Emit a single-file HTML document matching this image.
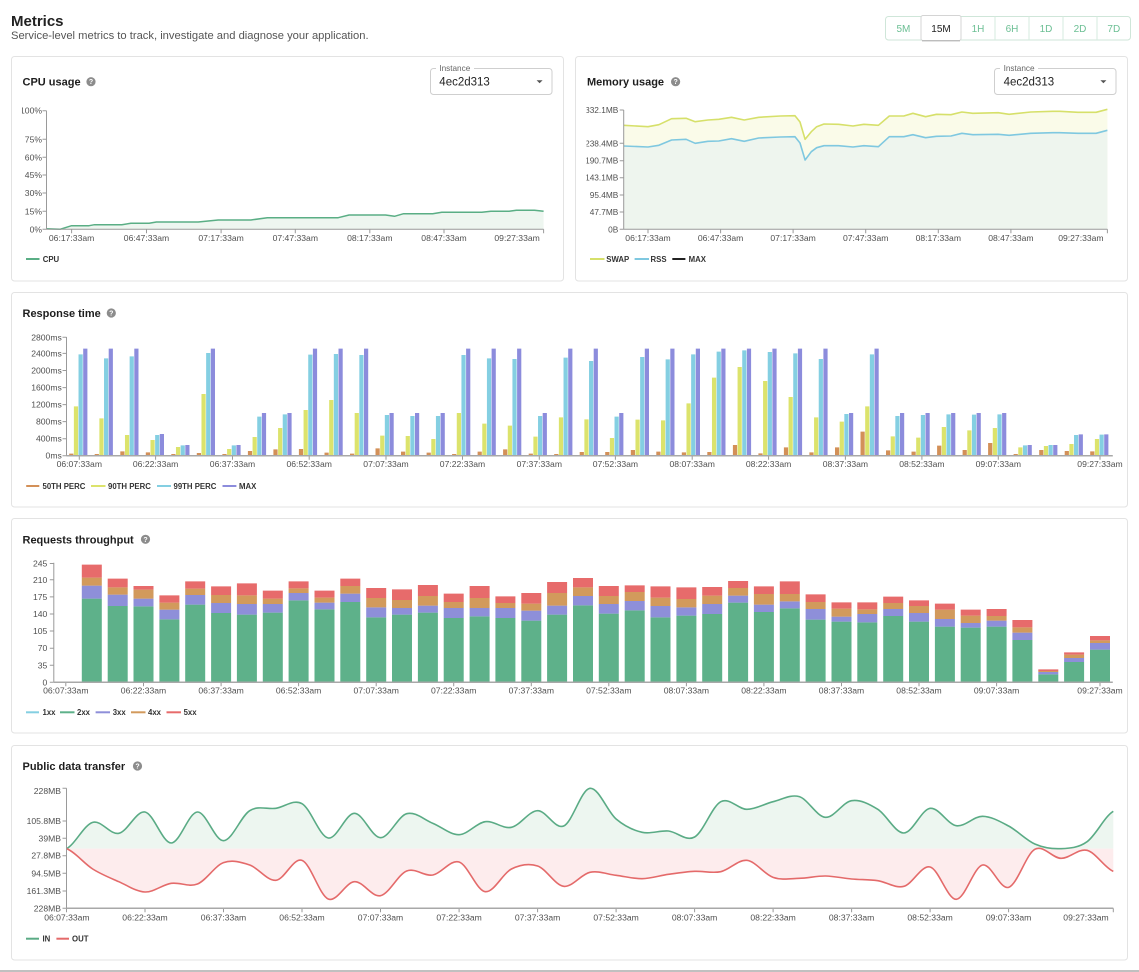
<!DOCTYPE html>
<html><head><meta charset="utf-8">
<style>
html,body{margin:0;padding:0;background:#fff;}
svg{display:block;font-family:"Liberation Sans",Arial,sans-serif;}
.ax{stroke:#9a9a9a;stroke-width:1;fill:none}
.xax{stroke:#a8a8a8;stroke-width:1.5;fill:none}
.yl{font-size:8.6px;fill:#505050;text-anchor:end}
.xl{font-size:8.6px;fill:#505050;text-anchor:middle}
.lg{font-size:7.8px;font-weight:bold;fill:#333}
.tt{font-size:11px;font-weight:bold;fill:#1e1e1e}
.card{fill:#fff;stroke:#e3e3e3;stroke-width:1}
.hq{font-size:7px;font-weight:bold;fill:#fff;text-anchor:middle}
.btn{font-size:10px;fill:#6cbf94;text-anchor:middle}
</style></head><body>
<svg width="1139" height="972" viewBox="0 0 1139 972">
<defs>
<clipPath id="cpuc"><rect x="22" y="0" width="560" height="300"/></clipPath>
<clipPath id="memc"><rect x="586.5" y="0" width="560" height="300"/></clipPath>
</defs>

<!-- Header -->
<text x="11" y="26" font-size="15" font-weight="bold" fill="#222">Metrics</text>
<text x="11" y="39" font-size="11.2" fill="#555">Service-level metrics to track, investigate and diagnose your application.</text>

<rect x="885.5" y="16.5" width="245" height="23.5" rx="3" fill="#fff" stroke="#cfe6d9"/>
<path d="M995 16.5V40M1029 16.5V40M1063 16.5V40M1097 16.5V40" stroke="#d6ebdf" stroke-width="1"/>
<rect x="921" y="15.5" width="40" height="25" rx="2" fill="#fff" stroke="#d4d4d4"/>
<path d="M922 40.8H960" stroke="#b5b5b5" stroke-width="1.2"/>
<text class="btn" x="903.4" y="32">5M</text>
<text x="941" y="32" font-size="10" fill="#222" text-anchor="middle">15M</text>
<text class="btn" x="978" y="32">1H</text>
<text class="btn" x="1012" y="32">6H</text>
<text class="btn" x="1046" y="32">1D</text>
<text class="btn" x="1080" y="32">2D</text>
<text class="btn" x="1113.8" y="32">7D</text>

<!-- Cards -->
<rect class="card" x="11.5" y="56.5" width="552" height="224.5" rx="3"/>
<rect class="card" x="575.5" y="56.5" width="552" height="224.5" rx="3"/>
<rect class="card" x="11.5" y="292.5" width="1116" height="214.5" rx="3"/>
<rect class="card" x="11.5" y="518.5" width="1116" height="214.5" rx="3"/>
<rect class="card" x="11.5" y="745.5" width="1116" height="214.5" rx="3"/>
<path d="M0 971H1139" stroke="#9a9a9a" stroke-width="1.2"/>

<!-- ===== CPU ===== -->
<text class="tt" x="22.5" y="85.6">CPU usage</text>
<circle cx="91" cy="81.7" r="4.6" fill="#8c8c8c"/><text class="hq" x="91" y="84.2">?</text>

<rect x="430.5" y="68.5" width="121.5" height="26" rx="3" fill="#fff" stroke="#cfcfcf"/>
<rect x="436" y="65" width="38" height="7" fill="#fff"/>
<text x="439.3" y="71" font-size="8.2" fill="#666">Instance</text>
<text x="439.3" y="85.7" font-size="11.5" fill="#222">4ec2d313</text>
<path d="M536.6 80.2H542.6L539.6 83.2Z" fill="#555"/>

<polygon fill="#eef6f0" points="46.5,229.3 46.5,228.7 60,229.3 71.6,225.7 89.1,225.7 94.5,224.7 121.8,224.7 130.9,223.3 149.1,223.3 156.4,222 198.2,222 218.2,220 250.9,220 267.3,217.7 338.2,217.7 349.1,215 385.5,215 394.5,216.3 403.6,213.7 432.7,213.7 441.8,212.3 481.8,212.3 490.9,211.3 509.1,211.3 516.4,210.3 534.5,210.3 543.6,211.3 543.6,229.3"/>
<polyline fill="none" stroke="#5aae85" stroke-width="1.5" stroke-linejoin="round" points="46.5,228.7 60,229.3 71.6,225.7 89.1,225.7 94.5,224.7 121.8,224.7 130.9,223.3 149.1,223.3 156.4,222 198.2,222 218.2,220 250.9,220 267.3,217.7 338.2,217.7 349.1,215 385.5,215 394.5,216.3 403.6,213.7 432.7,213.7 441.8,212.3 481.8,212.3 490.9,211.3 509.1,211.3 516.4,210.3 534.5,210.3 543.6,211.3"/>
<path class="ax" d="M46.5 110.7V229.3H543.6M42.5 110.7H46.5M42.5 139.3H46.5M42.5 157.3H46.5M42.5 175H46.5M42.5 193H46.5M42.5 211.3H46.5M42.5 229.3H46.5M71.6 229.3V233.3M146.5 229.3V233.3M221.1 229.3V233.3M295.3 229.3V233.3M369.8 229.3V233.3M444 229.3V233.3M543.6 229.3V233.3"/>
<g clip-path="url(#cpuc)">
<text class="yl" x="42" y="113.7">100%</text>
</g>
<text class="yl" x="42" y="142.3">75%</text>
<text class="yl" x="42" y="160.3">60%</text>
<text class="yl" x="42" y="178">45%</text>
<text class="yl" x="42" y="196">30%</text>
<text class="yl" x="42" y="214.3">15%</text>
<text class="yl" x="42" y="232.3">0%</text>
<text class="xl" x="71.6" y="240.8">06:17:33am</text>
<text class="xl" x="146.5" y="240.8">06:47:33am</text>
<text class="xl" x="221.1" y="240.8">07:17:33am</text>
<text class="xl" x="295.3" y="240.8">07:47:33am</text>
<text class="xl" x="369.8" y="240.8">08:17:33am</text>
<text class="xl" x="444" y="240.8">08:47:33am</text>
<text class="xl" x="517.1" y="240.8">09:27:33am</text>
<path d="M26 259H39.5" stroke="#5aae85" stroke-width="2"/>
<text class="lg" x="42.7" y="261.8">CPU</text>

<!-- ===== Memory ===== -->
<text class="tt" x="587" y="85.6">Memory usage</text>
<circle cx="675.6" cy="81.7" r="4.6" fill="#8c8c8c"/><text class="hq" x="675.6" y="84.2">?</text>

<rect x="994.5" y="68.5" width="121.5" height="26" rx="3" fill="#fff" stroke="#cfcfcf"/>
<rect x="1000" y="65" width="38" height="7" fill="#fff"/>
<text x="1003.6" y="71" font-size="8.2" fill="#666">Instance</text>
<text x="1003.6" y="85.7" font-size="11.5" fill="#222">4ec2d313</text>
<path d="M1100.4 80.2H1106.4L1103.4 83.2Z" fill="#555"/>

<polygon fill="#fafbe9" points="623.7,125.3 648,126.7 658.9,124.7 671.6,118.7 686.1,118.3 695.2,121.7 707.9,120 718.8,119.3 731.5,117.3 744.2,120 758.7,117.3 780.4,116 795,115.7 800,122 805.1,139.3 811.3,131.7 816.7,126.7 824,124 838.5,124.3 853,126 863.9,124.3 878.4,125.3 889.3,116 903.8,116 912.9,113.3 925.6,116.7 936.5,114.3 951,114.7 961.9,112 972.8,113.3 998.2,112.7 1009.1,114.3 1030.8,112 1052.6,111.3 1059.8,111.3 1078,112.3 1096.1,112.3 1107.4,109.3 1107.4,229.3 623.7,229.3"/>
<polygon fill="#eef5ee" points="623.7,146 648,147 658.9,145.3 671.6,140 686.1,139.3 695.2,143.3 707.9,141.3 718.8,141 731.5,138.7 744.2,141.3 758.7,138 780.4,137 795,136.7 800,143 805.1,160 811.3,151.7 816.7,147.7 824,145.7 838.5,145.7 853,147 863.9,145.7 878.4,146.7 889.3,136.7 903.8,136.7 912.9,134.7 925.6,137.7 936.5,136.3 951,136 961.9,133.3 972.8,134.7 998.2,134.3 1009.1,135.3 1030.8,133.3 1052.6,132.7 1059.8,132.7 1078,133.3 1096.1,133.3 1107.4,130.3 1107.4,229.3 623.7,229.3"/>
<polyline fill="none" stroke="#d6e06a" stroke-width="1.6" stroke-linejoin="round" points="623.7,125.3 648,126.7 658.9,124.7 671.6,118.7 686.1,118.3 695.2,121.7 707.9,120 718.8,119.3 731.5,117.3 744.2,120 758.7,117.3 780.4,116 795,115.7 800,122 805.1,139.3 811.3,131.7 816.7,126.7 824,124 838.5,124.3 853,126 863.9,124.3 878.4,125.3 889.3,116 903.8,116 912.9,113.3 925.6,116.7 936.5,114.3 951,114.7 961.9,112 972.8,113.3 998.2,112.7 1009.1,114.3 1030.8,112 1052.6,111.3 1059.8,111.3 1078,112.3 1096.1,112.3 1107.4,109.3"/>
<polyline fill="none" stroke="#7fc8e0" stroke-width="1.6" stroke-linejoin="round" points="623.7,146 648,147 658.9,145.3 671.6,140 686.1,139.3 695.2,143.3 707.9,141.3 718.8,141 731.5,138.7 744.2,141.3 758.7,138 780.4,137 795,136.7 800,143 805.1,160 811.3,151.7 816.7,147.7 824,145.7 838.5,145.7 853,147 863.9,145.7 878.4,146.7 889.3,136.7 903.8,136.7 912.9,134.7 925.6,137.7 936.5,136.3 951,136 961.9,133.3 972.8,134.7 998.2,134.3 1009.1,135.3 1030.8,133.3 1052.6,132.7 1059.8,132.7 1078,133.3 1096.1,133.3 1107.4,130.3"/>
<path class="ax" d="M623.7 110V229.3H1107.4M619.7 110H623.7M619.7 143.3H623.7M619.7 160.7H623.7M619.7 177.7H623.7M619.7 195H623.7M619.7 212H623.7M619.7 229.3H623.7M648 229.3V233.3M720.6 229.3V233.3M793.1 229.3V233.3M865.7 229.3V233.3M938.3 229.3V233.3M1010.9 229.3V233.3M1107.4 229.3V233.3"/>
<g clip-path="url(#memc)" font-size="8.3">
<text class="yl" x="618.3" y="113" style="font-size:8.3px">332.1MB</text>
<text class="yl" x="618.3" y="146.3" style="font-size:8.3px">238.4MB</text>
<text class="yl" x="618.3" y="163.7" style="font-size:8.3px">190.7MB</text>
<text class="yl" x="618.3" y="180.7" style="font-size:8.3px">143.1MB</text>
<text class="yl" x="618.3" y="198" style="font-size:8.3px">95.4MB</text>
<text class="yl" x="618.3" y="215" style="font-size:8.3px">47.7MB</text>
<text class="yl" x="618.3" y="232.3" style="font-size:8.3px">0B</text>
</g>
<text class="xl" x="648" y="240.8">06:17:33am</text>
<text class="xl" x="720.6" y="240.8">06:47:33am</text>
<text class="xl" x="793.1" y="240.8">07:17:33am</text>
<text class="xl" x="865.7" y="240.8">07:47:33am</text>
<text class="xl" x="938.3" y="240.8">08:17:33am</text>
<text class="xl" x="1010.9" y="240.8">08:47:33am</text>
<text class="xl" x="1080.9" y="240.8">09:27:33am</text>
<path d="M590 259H604.5" stroke="#d6e06a" stroke-width="2"/>
<text class="lg" x="606.3" y="261.8">SWAP</text>
<path d="M634.6 259H649" stroke="#7fc8e0" stroke-width="2"/>
<text class="lg" x="650.5" y="261.8">RSS</text>
<path d="M672.3 259H685.4" stroke="#222" stroke-width="2"/>
<text class="lg" x="688.6" y="261.8">MAX</text>

<!-- ===== Response time ===== -->
<text class="tt" x="22.5" y="317">Response time</text>
<circle cx="111.3" cy="313" r="4.6" fill="#8c8c8c"/><text class="hq" x="111.3" y="315.5">?</text>

<g fill="none" stroke-width="4.2">
<path stroke="#d39058" d="M71.3 455.7V453.67M96.8 455.7V454M122.4 455.7V451.33M147.9 455.7V452.33M173.4 455.7V454M198.9 455.7V453M224.5 455.7V454M250 455.7V451M275.5 455.7V449.33M301 455.7V449M326.6 455.7V452.67M352.1 455.7V453.67M377.6 455.7V448.33M403.1 455.7V451.67M428.7 455.7V452.67M454.2 455.7V454M479.7 455.7V451.67M505.2 455.7V449.33M530.8 455.7V453.67M556.3 455.7V454M581.8 455.7V452M607.3 455.7V452M632.9 455.7V450M658.4 455.7V451.67M683.9 455.7V452.33M709.4 455.7V452M735 455.7V445M760.5 455.7V453.33M786 455.7V447.33M811.5 455.7V452.33M837.1 455.7V447.33M862.6 455.7V431.67M888.1 455.7V450.33M913.6 455.7V451.67M939.2 455.7V445.67M964.7 455.7V450M990.2 455.7V443M1015.7 455.7V454M1041.3 455.7V450M1066.8 455.7V451M1092.3 455.7V451.33"/>
<path stroke="#dce36c" transform="translate(4.67 0)" d="M71.3 455.7V406.33M96.8 455.7V418.33M122.4 455.7V435M147.9 455.7V440M173.4 455.7V447M198.9 455.7V394M224.5 455.7V449M250 455.7V437M275.5 455.7V428M301 455.7V410M326.6 455.7V400M352.1 455.7V413M377.6 455.7V435.67M403.1 455.7V436M428.7 455.7V439M454.2 455.7V413M479.7 455.7V423.67M505.2 455.7V425.67M530.8 455.7V436.67M556.3 455.7V417.33M581.8 455.7V419.33M607.3 455.7V438M632.9 455.7V419.67M658.4 455.7V420.33M683.9 455.7V403.33M709.4 455.7V377.67M735 455.7V367M760.5 455.7V381M786 455.7V397M811.5 455.7V417.33M837.1 455.7V421.67M862.6 455.7V406.33M888.1 455.7V436.33M913.6 455.7V437.67M939.2 455.7V427M964.7 455.7V430.33M990.2 455.7V428M1015.7 455.7V447.33M1041.3 455.7V446M1066.8 455.7V444M1092.3 455.7V439"/>
<path stroke="#84cfe2" transform="translate(9.33 0)" d="M71.3 455.7V354.33M96.8 455.7V358.33M122.4 455.7V356.33M147.9 455.7V435M173.4 455.7V445.33M198.9 455.7V353M224.5 455.7V445.33M250 455.7V416.67M275.5 455.7V414.33M301 455.7V354.67M326.6 455.7V354M352.1 455.7V355M377.6 455.7V415M403.1 455.7V416M428.7 455.7V416M454.2 455.7V355M479.7 455.7V358.33M505.2 455.7V359M530.8 455.7V416M556.3 455.7V357.67M581.8 455.7V361M607.3 455.7V416.67M632.9 455.7V357M658.4 455.7V359.33M683.9 455.7V354.33M709.4 455.7V351.67M735 455.7V350.33M760.5 455.7V352M786 455.7V353.33M811.5 455.7V359M837.1 455.7V414M862.6 455.7V354.33M888.1 455.7V416M913.6 455.7V415M939.2 455.7V414.33M964.7 455.7V414.67M990.2 455.7V414.33M1015.7 455.7V445.33M1041.3 455.7V445M1066.8 455.7V435M1092.3 455.7V434.67"/>
<path stroke="#8c8cdc" transform="translate(14 0)" d="M71.3 455.7V348.67M96.8 455.7V348.67M122.4 455.7V348.67M147.9 455.7V434M173.4 455.7V445M198.9 455.7V348.67M224.5 455.7V445M250 455.7V413M275.5 455.7V413M301 455.7V348.67M326.6 455.7V348.67M352.1 455.7V348.67M377.6 455.7V413M403.1 455.7V413M428.7 455.7V413M454.2 455.7V348.67M479.7 455.7V348.67M505.2 455.7V348.67M530.8 455.7V413M556.3 455.7V348.67M581.8 455.7V348.67M607.3 455.7V413M632.9 455.7V348.67M658.4 455.7V348.67M683.9 455.7V348.67M709.4 455.7V348.67M735 455.7V348.67M760.5 455.7V348.67M786 455.7V348.67M811.5 455.7V348.67M837.1 455.7V413M862.6 455.7V348.67M888.1 455.7V413M913.6 455.7V413M939.2 455.7V413M964.7 455.7V413M990.2 455.7V413M1015.7 455.7V445M1041.3 455.7V445M1066.8 455.7V434.33M1092.3 455.7V434.33"/>
</g>
<path class="ax" d="M66.5 337V455.7M62.5 337.3H66.5M62.5 353.4H66.5M62.5 370.5H66.5M62.5 387.6H66.5M62.5 404.6H66.5M62.5 421.6H66.5M62.5 438.7H66.5M62.5 455.7H66.5M79.3 455.7V459.7M155.6 455.7V459.7M232.5 455.7V459.7M309.2 455.7V459.7M386 455.7V459.7M462.5 455.7V459.7M539.3 455.7V459.7M615.4 455.7V459.7M692.2 455.7V459.7M768.6 455.7V459.7M845.4 455.7V459.7M921.9 455.7V459.7M998.3 455.7V459.7M1100 455.7V459.7"/>
<path class="xax" d="M66.5 455.7H1112.8"/>
<text class="yl" x="61.8" y="340.3">2800ms</text>
<text class="yl" x="61.8" y="356.4">2400ms</text>
<text class="yl" x="61.8" y="373.5">2000ms</text>
<text class="yl" x="61.8" y="390.6">1600ms</text>
<text class="yl" x="61.8" y="407.6">1200ms</text>
<text class="yl" x="61.8" y="424.6">800ms</text>
<text class="yl" x="61.8" y="441.7">400ms</text>
<text class="yl" x="61.8" y="458.7">0ms</text>
<text class="xl" x="79.3" y="467">06:07:33am</text>
<text class="xl" x="155.6" y="467">06:22:33am</text>
<text class="xl" x="232.5" y="467">06:37:33am</text>
<text class="xl" x="309.2" y="467">06:52:33am</text>
<text class="xl" x="386" y="467">07:07:33am</text>
<text class="xl" x="462.5" y="467">07:22:33am</text>
<text class="xl" x="539.3" y="467">07:37:33am</text>
<text class="xl" x="615.4" y="467">07:52:33am</text>
<text class="xl" x="692.2" y="467">08:07:33am</text>
<text class="xl" x="768.6" y="467">08:22:33am</text>
<text class="xl" x="845.4" y="467">08:37:33am</text>
<text class="xl" x="921.9" y="467">08:52:33am</text>
<text class="xl" x="998.3" y="467">09:07:33am</text>
<text class="xl" x="1100" y="467">09:27:33am</text>
<path d="M26.2 486H39.3" stroke="#d39058" stroke-width="2"/>
<text class="lg" x="42.5" y="488.8">50TH PERC</text>
<path d="M91 486H105.5" stroke="#dce36c" stroke-width="2"/>
<text class="lg" x="108" y="488.8">90TH PERC</text>
<path d="M157 486H171" stroke="#84cfe2" stroke-width="2"/>
<text class="lg" x="173.5" y="488.8">99TH PERC</text>
<path d="M222.5 486H236.4" stroke="#8c8cdc" stroke-width="2"/>
<text class="lg" x="239" y="488.8">MAX</text>

<!-- ===== Requests throughput ===== -->
<text class="tt" x="22.5" y="543.3">Requests throughput</text>
<circle cx="145.5" cy="539.3" r="4.6" fill="#8c8c8c"/><text class="hq" x="145.5" y="541.8">?</text>

<g fill="none" stroke-width="20">
<path stroke="#5eb18a" d="M91.8 682.3V598.67M117.7 682.3V606M143.5 682.3V606.33M169.4 682.3V619.33M195.2 682.3V604.67M221.1 682.3V613M246.9 682.3V614.67M272.8 682.3V612.67M298.6 682.3V600.33M324.5 682.3V609.33M350.3 682.3V602M376.2 682.3V617.33M402 682.3V614.67M427.9 682.3V612.67M453.7 682.3V618M479.6 682.3V616.33M505.4 682.3V618M531.3 682.3V620.67M557.1 682.3V614.67M583 682.3V605.33M608.8 682.3V613.67M634.7 682.3V610.33M660.5 682.3V617.33M686.4 682.3V615.67M712.2 682.3V614M738.1 682.3V602.67M763.9 682.3V612M789.8 682.3V608.33M815.6 682.3V619.67M841.5 682.3V621.67M867.3 682.3V622.33M893.2 682.3V616M919 682.3V621.67M944.9 682.3V626.67M970.7 682.3V627.67M996.6 682.3V626.67M1022.4 682.3V640M1048.3 682.3V674.33M1074.1 682.3V662M1100 682.3V649.67"/>
<path stroke="#8e8fd9" d="M91.8 598.67V585.67M117.7 606V594.67M143.5 606.33V598.67M169.4 619.33V609.67M195.2 604.67V595M221.1 613V603M246.9 614.67V604M272.8 612.67V604M298.6 600.33V593M324.5 609.33V602.67M350.3 602V593.67M376.2 617.33V607.33M402 614.67V608M427.9 612.67V605.67M453.7 618V608M479.6 616.33V608M505.4 618V608M531.3 620.67V610.67M557.1 614.67V605.67M583 605.33V596M608.8 613.67V604M634.7 610.33V601M660.5 617.33V606M686.4 615.67V607.33M712.2 614V604M738.1 602.67V595.67M763.9 612V604.67M789.8 608.33V601.33M815.6 619.67V609M841.5 621.67V616.67M867.3 622.33V614M893.2 616V609M919 621.67V613M944.9 626.67V619M970.7 627.67V623M996.6 626.67V620.67M1022.4 640V632.67M1048.3 674.33V672M1074.1 662V658M1100 649.67V643"/>
<path stroke="#d29a5c" d="M91.8 585.67V577.67M117.7 594.67V587.33M143.5 598.67V589.67M169.4 609.67V602.67M195.2 595V588.67M221.1 603V595M246.9 604V595.33M272.8 604V598.67M298.6 593V588.33M324.5 602.67V597.67M350.3 593.67V586M376.2 607.33V598M402 608V600M427.9 605.67V596M453.7 608V602M479.6 608V598M505.4 608V603M531.3 610.67V603.67M557.1 605.67V593M583 596V587.33M608.8 604V596M634.7 601V592M660.5 606V597.67M686.4 607.33V599M712.2 604V595.67M738.1 595.67V588M763.9 604.67V594M789.8 601.33V594M815.6 609V602M841.5 616.67V608.67M867.3 614V609.33M893.2 609V603M919 613V606M944.9 619V609.67M970.7 623V615.67M996.6 620.67V616M1022.4 632.67V627.33M1048.3 672V671M1074.1 658V654.67M1100 643V640.33"/>
<path stroke="#e76b6b" d="M91.8 577.67V564.67M117.7 587.33V578.67M143.5 589.67V586M169.4 602.67V595.33M195.2 588.67V581.33M221.1 595V586.33M246.9 595.33V583.33M272.8 598.67V590.67M298.6 588.33V581.33M324.5 597.67V590.67M350.3 586V578.67M376.2 598V588M402 600V589.33M427.9 596V585M453.7 602V593.67M479.6 598V586M505.4 603V596.33M531.3 603.67V593M557.1 593V582M583 587.33V578M608.8 596V586M634.7 592V585.33M660.5 597.67V586.33M686.4 599V587.33M712.2 595.67V587M738.1 588V581M763.9 594V586.33M789.8 594V581.33M815.6 602V594.33M841.5 608.67V602.33M867.3 609.33V602.33M893.2 603V596.67M919 606V600.33M944.9 609.67V603.67M970.7 615.67V609.67M996.6 616V609M1022.4 627.33V620M1048.3 671V669.33M1074.1 654.67V652.33M1100 640.33V636"/>
</g>
<path class="ax" d="M53.8 562.7V682.3M49.8 563.5H53.8M49.8 579.8H53.8M49.8 596.9H53.8M49.8 614H53.8M49.8 631H53.8M49.8 648.2H53.8M49.8 665.3H53.8M49.8 682.3H53.8M65.8 682.3V686.3M143.5 682.3V686.3M221.1 682.3V686.3M298.6 682.3V686.3M376.2 682.3V686.3M453.7 682.3V686.3M531.3 682.3V686.3M608.8 682.3V686.3M686.4 682.3V686.3M763.9 682.3V686.3M841.5 682.3V686.3M919 682.3V686.3M996.6 682.3V686.3M1100 682.3V686.3"/>
<path class="xax" d="M53.8 682.3H1112.8"/>
<text class="yl" x="47.3" y="566.5">245</text>
<text class="yl" x="47.3" y="582.8">210</text>
<text class="yl" x="47.3" y="599.9">175</text>
<text class="yl" x="47.3" y="617">140</text>
<text class="yl" x="47.3" y="634">105</text>
<text class="yl" x="47.3" y="651.2">70</text>
<text class="yl" x="47.3" y="668.3">35</text>
<text class="yl" x="47.3" y="685.3">0</text>
<text class="xl" x="65.8" y="693.7">06:07:33am</text>
<text class="xl" x="143.5" y="693.7">06:22:33am</text>
<text class="xl" x="221.1" y="693.7">06:37:33am</text>
<text class="xl" x="298.6" y="693.7">06:52:33am</text>
<text class="xl" x="376.2" y="693.7">07:07:33am</text>
<text class="xl" x="453.7" y="693.7">07:22:33am</text>
<text class="xl" x="531.3" y="693.7">07:37:33am</text>
<text class="xl" x="608.8" y="693.7">07:52:33am</text>
<text class="xl" x="686.4" y="693.7">08:07:33am</text>
<text class="xl" x="763.9" y="693.7">08:22:33am</text>
<text class="xl" x="841.5" y="693.7">08:37:33am</text>
<text class="xl" x="919" y="693.7">08:52:33am</text>
<text class="xl" x="996.6" y="693.7">09:07:33am</text>
<text class="xl" x="1100" y="693.7">09:27:33am</text>
<path d="M26 712.3H39" stroke="#84cfe2" stroke-width="2"/>
<text class="lg" x="42.5" y="715.1">1xx</text>
<path d="M60 712.3H74.5" stroke="#5eb18a" stroke-width="2"/>
<text class="lg" x="77" y="715.1">2xx</text>
<path d="M95.6 712.3H110" stroke="#8e8fd9" stroke-width="2"/>
<text class="lg" x="112.7" y="715.1">3xx</text>
<path d="M131 712.3H145.5" stroke="#d29a5c" stroke-width="2"/>
<text class="lg" x="148" y="715.1">4xx</text>
<path d="M166.5 712.3H181" stroke="#e76b6b" stroke-width="2"/>
<text class="lg" x="183.6" y="715.1">5xx</text>

<!-- ===== Public data transfer ===== -->
<text class="tt" x="22.5" y="770">Public data transfer</text>
<circle cx="137.5" cy="766" r="4.6" fill="#8c8c8c"/><text class="hq" x="137.5" y="768.5">?</text>

<path fill="#edf6f0" d="M66.5,848.67 C75.2,844.28 84.0,824.89 92.7,822.33 S110.1,835.05 118.8,833.33 S136.3,810.39 145.0,812 S162.5,843 171.2,843 S188.7,812.39 197.4,812 S214.8,840.89 223.5,840.67 S241.0,816.06 249.7,810.67 S267.2,809.5 275.9,808.33 S293.3,798.73 302.0,803.67 S319.5,836.39 328.2,838 S345.7,813.39 354.4,813.33 S371.8,837.61 380.5,837.67 S398.0,816.06 406.7,813.67 S424.2,819.83 432.9,823.33 S450.4,834.95 459.1,834.67 S476.5,822.89 485.2,821.67 S502.7,829.16 511.4,827.33 S528.9,810.89 537.6,810.67 S555.0,829.72 563.7,826 S581.2,789.5 589.9,788.33 S607.4,811.67 616.1,819 S633.5,830.33 642.2,832.33 S659.7,830.22 668.4,831 S685.9,841.89 694.6,837 S712.1,806.28 720.8,801.67 S738.2,809.33 746.9,809.33 S764.4,803.78 773.1,801.67 S790.6,794.06 799.3,796.67 S816.7,816.66 825.4,817.33 S842.9,802 851.6,800.67 S869.1,803.94 877.8,809.33 S895.2,833.17 903.9,833 S921.4,809.55 930.1,808.33 S947.6,824.34 956.3,825.67 S973.8,816.27 982.5,816.33 S999.9,821.39 1008.6,826 S1026.1,840.22 1034.8,844 S1052.3,849.06 1061.0,848.67 S1078.4,847.89 1087.1,841.67 S1104.6,816.39 1113.3,811.33 L1113.3,848.67 L66.5,848.67 Z"/>
<path fill="#fdeced" d="M66.5,848.67 C75.2,852.06 84.0,863.5 92.7,869 S110.1,877.84 118.8,881.67 S136.3,891.72 145.0,892 S162.5,884.66 171.2,883.33 S188.7,887.44 197.4,884 S214.8,865.84 223.5,862.67 S241.0,862.06 249.7,865 S267.2,881.11 275.9,880.33 S293.3,857.22 302.0,860.33 S319.5,895.44 328.2,899 S345.7,882.23 354.4,881.67 S371.8,897.45 380.5,895.67 S398.0,874.44 406.7,871 S424.2,876.5 432.9,875 S450.4,859.22 459.1,862 S476.5,890.5 485.2,891.67 S502.7,873.28 511.4,869 S528.9,863.11 537.6,866 S555.0,885.27 563.7,886.33 S581.2,874.16 589.9,872.33 S607.4,874.27 616.1,875.33 S633.5,878.84 642.2,878.67 S659.7,875.55 668.4,874.33 S685.9,871.77 694.6,871.33 S712.1,873.5 720.8,871.67 S738.2,859.39 746.9,860.33 S764.4,874.33 773.1,877.33 S790.6,878.55 799.3,878.33 S816.7,875.89 825.4,876 S842.9,878.22 851.6,879 S869.1,879.45 877.8,880.67 S895.2,888.61 903.9,886.33 S921.4,864.83 930.1,867 S947.6,899.66 956.3,899.33 S973.8,867 982.5,865 S999.9,889.94 1008.6,887.33 S1026.1,854.16 1034.8,849.33 S1052.3,858.16 1061.0,858.33 S1078.4,848.16 1087.1,850.33 S1104.6,867.83 1113.3,871.33 L1113.3,848.67 L66.5,848.67 Z"/>
<path fill="none" stroke="#5aab85" stroke-width="1.6" d="M66.5,848.67 C75.2,844.28 84.0,824.89 92.7,822.33 S110.1,835.05 118.8,833.33 S136.3,810.39 145.0,812 S162.5,843 171.2,843 S188.7,812.39 197.4,812 S214.8,840.89 223.5,840.67 S241.0,816.06 249.7,810.67 S267.2,809.5 275.9,808.33 S293.3,798.73 302.0,803.67 S319.5,836.39 328.2,838 S345.7,813.39 354.4,813.33 S371.8,837.61 380.5,837.67 S398.0,816.06 406.7,813.67 S424.2,819.83 432.9,823.33 S450.4,834.95 459.1,834.67 S476.5,822.89 485.2,821.67 S502.7,829.16 511.4,827.33 S528.9,810.89 537.6,810.67 S555.0,829.72 563.7,826 S581.2,789.5 589.9,788.33 S607.4,811.67 616.1,819 S633.5,830.33 642.2,832.33 S659.7,830.22 668.4,831 S685.9,841.89 694.6,837 S712.1,806.28 720.8,801.67 S738.2,809.33 746.9,809.33 S764.4,803.78 773.1,801.67 S790.6,794.06 799.3,796.67 S816.7,816.66 825.4,817.33 S842.9,802 851.6,800.67 S869.1,803.94 877.8,809.33 S895.2,833.17 903.9,833 S921.4,809.55 930.1,808.33 S947.6,824.34 956.3,825.67 S973.8,816.27 982.5,816.33 S999.9,821.39 1008.6,826 S1026.1,840.22 1034.8,844 S1052.3,849.06 1061.0,848.67 S1078.4,847.89 1087.1,841.67 S1104.6,816.39 1113.3,811.33"/>
<path fill="none" stroke="#e46a6a" stroke-width="1.6" d="M66.5,848.67 C75.2,852.06 84.0,863.5 92.7,869 S110.1,877.84 118.8,881.67 S136.3,891.72 145.0,892 S162.5,884.66 171.2,883.33 S188.7,887.44 197.4,884 S214.8,865.84 223.5,862.67 S241.0,862.06 249.7,865 S267.2,881.11 275.9,880.33 S293.3,857.22 302.0,860.33 S319.5,895.44 328.2,899 S345.7,882.23 354.4,881.67 S371.8,897.45 380.5,895.67 S398.0,874.44 406.7,871 S424.2,876.5 432.9,875 S450.4,859.22 459.1,862 S476.5,890.5 485.2,891.67 S502.7,873.28 511.4,869 S528.9,863.11 537.6,866 S555.0,885.27 563.7,886.33 S581.2,874.16 589.9,872.33 S607.4,874.27 616.1,875.33 S633.5,878.84 642.2,878.67 S659.7,875.55 668.4,874.33 S685.9,871.77 694.6,871.33 S712.1,873.5 720.8,871.67 S738.2,859.39 746.9,860.33 S764.4,874.33 773.1,877.33 S790.6,878.55 799.3,878.33 S816.7,875.89 825.4,876 S842.9,878.22 851.6,879 S869.1,879.45 877.8,880.67 S895.2,888.61 903.9,886.33 S921.4,864.83 930.1,867 S947.6,899.66 956.3,899.33 S973.8,867 982.5,865 S999.9,889.94 1008.6,887.33 S1026.1,854.16 1034.8,849.33 S1052.3,858.16 1061.0,858.33 S1078.4,848.16 1087.1,850.33 S1104.6,867.83 1113.3,871.33"/>
<path class="ax" d="M66.5 788.3V908.3M62.5 788.3H66.5M62.5 821H66.5M62.5 838.3H66.5M62.5 855.7H66.5M62.5 873.3H66.5M62.5 891H66.5M62.5 908.3H66.5M66.5 908.3V912.3M145 908.3V912.3M223.5 908.3V912.3M302 908.3V912.3M380.5 908.3V912.3M459.1 908.3V912.3M537.6 908.3V912.3M616.1 908.3V912.3M694.6 908.3V912.3M773.1 908.3V912.3M851.6 908.3V912.3M930.1 908.3V912.3M1008.6 908.3V912.3M1113.3 908.3V912.3"/>
<path class="xax" d="M66.5 908.3H1113.3"/>
<text class="yl" x="61" y="794">228MB</text>
<text class="yl" x="61" y="824">105.8MB</text>
<text class="yl" x="61" y="841.3">39MB</text>
<text class="yl" x="61" y="858.7">27.8MB</text>
<text class="yl" x="61" y="876.3">94.5MB</text>
<text class="yl" x="61" y="894">161.3MB</text>
<text class="yl" x="61" y="911.3">228MB</text>
<text class="xl" x="66.9" y="920.3">06:07:33am</text>
<text class="xl" x="145" y="920.3">06:22:33am</text>
<text class="xl" x="223.5" y="920.3">06:37:33am</text>
<text class="xl" x="302" y="920.3">06:52:33am</text>
<text class="xl" x="380.5" y="920.3">07:07:33am</text>
<text class="xl" x="459.1" y="920.3">07:22:33am</text>
<text class="xl" x="537.6" y="920.3">07:37:33am</text>
<text class="xl" x="616.1" y="920.3">07:52:33am</text>
<text class="xl" x="694.6" y="920.3">08:07:33am</text>
<text class="xl" x="773.1" y="920.3">08:22:33am</text>
<text class="xl" x="851.6" y="920.3">08:37:33am</text>
<text class="xl" x="930.1" y="920.3">08:52:33am</text>
<text class="xl" x="1008.6" y="920.3">09:07:33am</text>
<text class="xl" x="1086" y="920.3">09:27:33am</text>
<path d="M26 938.7H39" stroke="#5aab85" stroke-width="2"/>
<text class="lg" x="42.5" y="941.5">IN</text>
<path d="M56.4 938.7H69" stroke="#e46a6a" stroke-width="2"/>
<text class="lg" x="72" y="941.5">OUT</text>
</svg>
</body></html>
